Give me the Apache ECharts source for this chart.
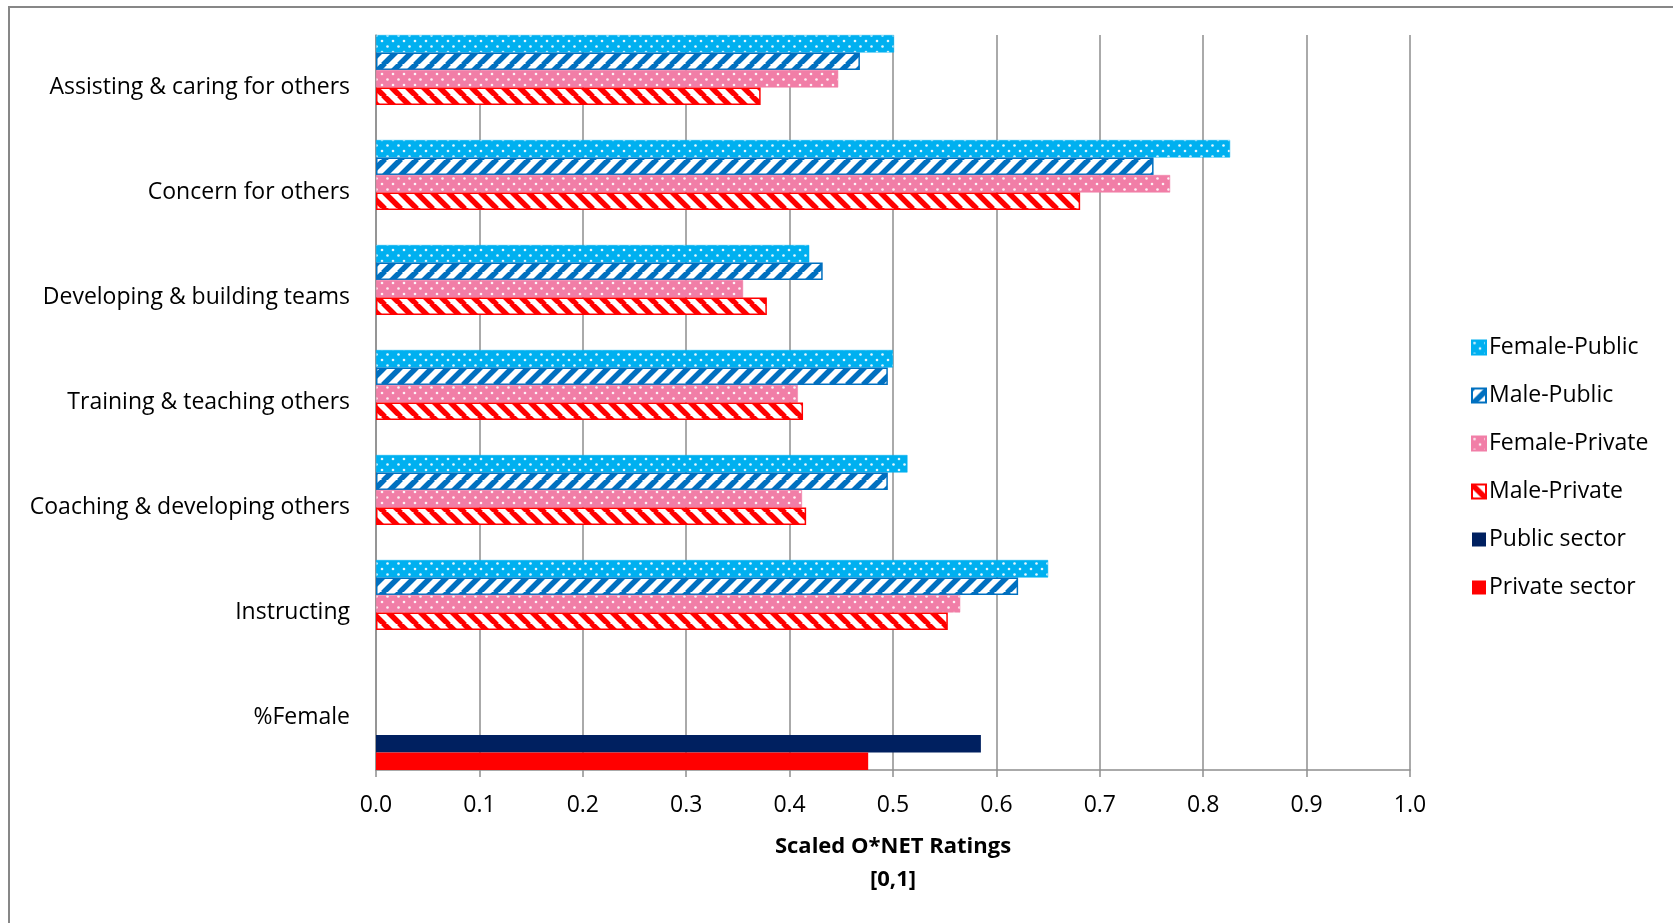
<!DOCTYPE html>
<html>
<head>
<meta charset="utf-8">
<title>Scaled O*NET Ratings</title>
<script src="https://cdn.jsdelivr.net/npm/echarts@6/dist/echarts.min.js"></script>
<style>
  html, body { margin: 0; padding: 0; background: #ffffff; }
  #chart { width: 1673px; height: 923px; }
</style>
</head>
<body>
<div id="chart"></div>
<script>
// Task categories (top to bottom)
const categories = [
  'Assisting & caring for others',
  'Concern for others',
  'Developing & building teams',
  'Training & teaching others',
  'Coaching & developing others',
  'Instructing',
  '%Female'
];

// Scaled O*NET ratings by gender and sector
const femalePublic  = [0.501, 0.826, 0.419, 0.500, 0.514, 0.650, null];
const malePublic    = [0.468, 0.752, 0.432, 0.495, 0.495, 0.621, null];
const femalePrivate = [0.447, 0.768, 0.355, 0.408, 0.412, 0.565, null];
const malePrivate   = [0.372, 0.681, 0.378, 0.413, 0.416, 0.553, null];

// Share of female workers by sector
const publicSector  = [null, null, null, null, null, null, 0.585];
const privateSector = [null, null, null, null, null, null, 0.476];

const seriesNames = ['Female-Public', 'Male-Public', 'Female-Private', 'Male-Private', 'Public sector', 'Private sector'];
const xTicks = [0, 0.1, 0.2, 0.3, 0.4, 0.5, 0.6, 0.7, 0.8, 0.9, 1.0];

const FONT = '"Open Sans", "Noto Sans", sans-serif';

// Pattern tiles
function dotPattern(bg) {
  const c = document.createElement('canvas');
  c.width = 11; c.height = 11;
  const g = c.getContext('2d');
  g.fillStyle = bg; g.fillRect(0, 0, 11, 11);
  g.fillStyle = 'rgba(255,255,255,0.9)';
  [[2.5, 2.5], [8, 8]].forEach(([x, y]) => {
    g.beginPath(); g.arc(x, y, 1.3, 0, Math.PI * 2); g.fill();
  });
  return { image: c, repeat: 'repeat' };
}

function stripePattern(color, upward) {
  const s = 16;
  const c = document.createElement('canvas');
  c.width = s; c.height = s;
  const g = c.getContext('2d');
  g.fillStyle = '#ffffff'; g.fillRect(0, 0, s, s);
  g.strokeStyle = color; g.lineWidth = 5.5;
  g.beginPath();
  for (let k = -1; k <= 1; k++) {
    if (upward) {
      g.moveTo(k * s - 1, s + 1); g.lineTo(k * s + s + 1, -1);
    } else {
      g.moveTo(k * s - 1, -1); g.lineTo(k * s + s + 1, s + 1);
    }
  }
  g.stroke();
  return { image: c, repeat: 'repeat' };
}

const styles = [
  { color: dotPattern('#00B0F0'), borderColor: '#00B0F0', borderWidth: 0.5 },
  { color: stripePattern('#0070C0', true), borderColor: '#0070C0', borderWidth: 1.5 },
  { color: dotPattern('#F17EA7'), borderColor: '#F17EA7', borderWidth: 0.5 },
  { color: stripePattern('#FF0000', false), borderColor: '#FF0000', borderWidth: 1.5 },
  { color: '#002060' },
  { color: '#FF0000' }
];
const seriesData = [femalePublic, malePublic, femalePrivate, malePrivate, publicSector, privateSector];

const chart = echarts.init(document.getElementById('chart'), null, { renderer: 'canvas' });

chart.setOption({
  animation: false,
  backgroundColor: '#ffffff',
  textStyle: { fontFamily: FONT },
  grid: { left: 376, right: 263, top: 35, bottom: 153, containLabel: false },
  legend: {
    orient: 'vertical',
    left: 1466,
    top: 331,
    itemWidth: 14,
    itemHeight: 14,
    itemGap: 25,
    icon: 'rect',
    data: seriesNames,
    textStyle: { fontFamily: FONT, fontSize: 23, color: '#000000', padding: [0, 0, 0, -2] }
  },
  xAxis: {
    type: 'value',
    min: 0,
    max: 1,
    interval: 0.1,
    name: 'Scaled O*NET Ratings\n[0,1]',
    nameLocation: 'middle',
    nameGap: 60,
    nameTextStyle: { fontFamily: FONT, fontSize: 22, fontWeight: 'bold', color: '#000000', lineHeight: 33 },
    axisLine: { show: true, lineStyle: { color: '#8e8e8e', width: 1.5 } },
    axisTick: { show: true, inside: false, length: 7, lineStyle: { color: '#8e8e8e', width: 1.5 } },
    axisLabel: {
      fontFamily: FONT, fontSize: 23, color: '#000000', margin: 24,
      formatter: v => xTicks.includes(Math.round(v * 10) / 10) ? v.toFixed(1) : ''
    },
    splitLine: { show: true, lineStyle: { color: '#8e8e8e', width: 1.5 } }
  },
  yAxis: {
    type: 'category',
    inverse: true,
    data: categories,
    axisLine: { show: true, lineStyle: { color: '#8e8e8e', width: 1.5 } },
    axisTick: { show: false },
    axisLabel: { fontFamily: FONT, fontSize: 23, color: '#000000', margin: 26, padding: [4, 0, 0, 0] }
  },
  series: seriesNames.map((name, i) => ({
    name,
    type: 'bar',
    data: seriesData[i],
    barGap: '0%',
    barCategoryGap: '0%',
    itemStyle: styles[i]
  }))
});

chart.setOption({
  graphic: [{
    type: 'rect',
    silent: true,
    shape: { x: 9, y: 7, width: 1700, height: 1000 },
    style: { fill: null, stroke: '#878787', lineWidth: 2 }
  }]
});
</script>
</body>
</html>
